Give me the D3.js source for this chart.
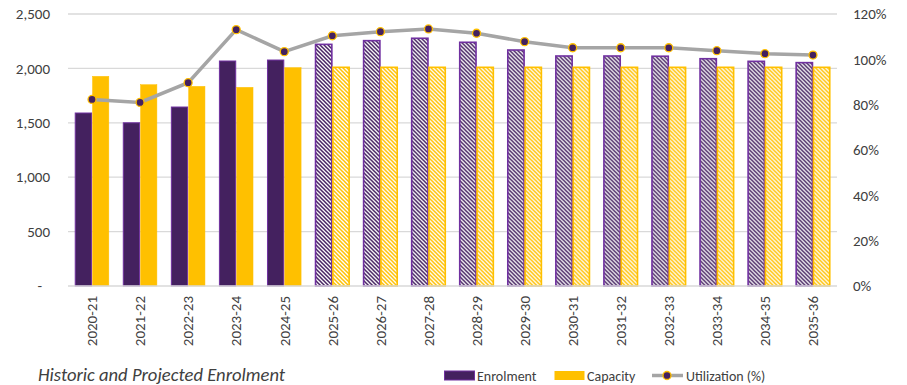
<!DOCTYPE html>
<html>
<head>
<meta charset="utf-8">
<script src="https://cdn.jsdelivr.net/npm/d3@7"></script>
<style>
  body { margin: 0; background: #fff; }
  text { font-family: Carlito, Calibri, Lato, "Open Sans", sans-serif; fill: #404040; }
</style>
</head>
<body>
<div id="app"></div>
<script>
// data
const years = ['2020-21','2021-22','2022-23','2023-24','2024-25','2025-26','2026-27','2027-28',
  '2028-29','2029-30','2030-31','2031-32','2032-33','2033-34','2034-35','2035-36']
const enrolment = [1590,1500,1645,2068,2077,2221,2255,2277,2240,2169,2114,2114,2112,2089,2065,2053]
const capacity = [1927,1850,1835,1826,2007,2010,2010,2010,2010,2010,2010,2010,2010,2010,2010,2010]
const utilization = [82.3,81.0,89.7,113.1,103.4,110.4,112.2,113.4,111.5,107.8,105.1,105.1,105.1,103.8,102.5,101.9]
const projectedFrom = '2025-26'
const leftTicks = [0,500,1000,1500,2000,2500]
const rightTicks = [0,20,40,60,80,100,120]

const W = 907, H = 385
const purple = '#44215f', purpleEdge = '#7030a0', gold = '#ffc000'

const svg = d3.select('#app').append('svg').attr('width',W).attr('height',H)

// hatch patterns for projected years
const defs = svg.append('defs')
function hatch(id,color) {
  const p = defs.append('pattern').attr('id',id).attr('patternUnits','userSpaceOnUse')
    .attr('width',4).attr('height',4)
  p.append('rect').attr('width',4).attr('height',4).attr('fill','#fff')
  p.append('path').attr('d','M-1,-1 L5,5 M-1,3 L1,5 M3,-1 L5,1')
    .attr('stroke',color).attr('stroke-width',1.5)
}
hatch('hatchPurple',purple)
hatch('hatchGold',gold)

const x = d3.scaleBand().domain(years).range([68,837]).paddingInner(0.28).paddingOuter(0.14)
const x1 = d3.scaleBand().domain(['enrolment','capacity']).range([0,x.bandwidth()])
const y = d3.scaleLinear().domain([0,2500]).range([286,14])
const y2 = d3.scaleLinear().domain([0,120]).range([286,14])

// gridlines
svg.append('g').selectAll('line').data(leftTicks.slice(1)).enter().append('line')
  .attr('x1',68).attr('x2',837).attr('y1',d => y(d)).attr('y2',d => y(d))
  .attr('stroke','#d9d9d9').attr('stroke-width',1.3)

// left axis
const fmt = d3.format(',')
svg.append('g').selectAll('text').data(leftTicks).enter().append('text')
  .attr('x',d => d === 0 ? 42 : 50).attr('y',d => y(d)).attr('dy','0.35em')
  .attr('text-anchor','end').attr('font-size',15)
  .text(d => d === 0 ? '-' : fmt(d))

// right axis
svg.append('g').selectAll('text').data(rightTicks).enter().append('text')
  .attr('x',853).attr('y',d => y2(d)).attr('dy','0.35em')
  .attr('font-size',15)
  .text(d => d + '%')

// bars
const rows = years.map((yr,i) => ({year:yr, enrolment:enrolment[i], capacity:capacity[i],
  projected: years.indexOf(yr) >= years.indexOf(projectedFrom)}))

const groups = svg.append('g').selectAll('g').data(rows).enter().append('g')
  .attr('transform',d => `translate(${x(d.year)},0)`)

groups.append('rect')
  .attr('x',x1('enrolment')+0.5).attr('width',x1.bandwidth()-1)
  .attr('y',d => y(d.enrolment)).attr('height',d => y(0) - y(d.enrolment))
  .attr('fill',d => d.projected ? 'url(#hatchPurple)' : purple)
  .attr('stroke',purpleEdge).attr('stroke-width',d => d.projected ? 1.6 : 1)

groups.append('rect')
  .attr('x',x1('capacity')+0.5).attr('width',x1.bandwidth()-1)
  .attr('y',d => y(d.capacity)).attr('height',d => y(0) - y(d.capacity))
  .attr('fill',d => d.projected ? 'url(#hatchGold)' : gold)
  .attr('stroke',gold).attr('stroke-width',d => d.projected ? 1.6 : 0.5)

// baseline
svg.append('line').attr('x1',68).attr('x2',837).attr('y1',y(0)).attr('y2',y(0))
  .attr('stroke','#d9d9d9').attr('stroke-width',1.5)

// x labels
svg.append('g').selectAll('text').data(years).enter().append('text')
  .attr('transform',d => `translate(${x(d) + x.bandwidth()/2},296) rotate(-90)`)
  .attr('text-anchor','end').attr('dy','0.35em').attr('font-size',15)
  .text(d => d)

// utilization line
const cx = d => x(d) + x.bandwidth()/2
const line = d3.line().x((d,i) => cx(years[i])).y(d => y2(d))
svg.append('path').datum(utilization).attr('d',line)
  .attr('fill','none').attr('stroke','#a5a5a5').attr('stroke-width',3.5)
svg.append('g').selectAll('circle').data(utilization).enter().append('circle')
  .attr('cx',(d,i) => cx(years[i])).attr('cy',d => y2(d)).attr('r',4)
  .attr('fill',purple).attr('stroke',gold).attr('stroke-width',1.3)

// title
svg.append('text').attr('x',38).attr('y',381).attr('font-size',18.6)
  .attr('font-style','italic').attr('fill','#262626').text('Historic and Projected Enrolment')

// legend
const lg = svg.append('g')
lg.append('rect').attr('x',444.5).attr('y',371).attr('width',30).attr('height',9)
  .attr('fill',purple).attr('stroke',purpleEdge)
lg.append('text').attr('x',477).attr('y',381).attr('font-size',14).text('Enrolment')
lg.append('rect').attr('x',554.5).attr('y',371).attr('width',30).attr('height',9)
  .attr('fill',gold)
lg.append('text').attr('x',587).attr('y',381).attr('font-size',14).text('Capacity')
lg.append('line').attr('x1',652).attr('x2',683).attr('y1',375.5).attr('y2',375.5)
  .attr('stroke','#a5a5a5').attr('stroke-width',3.5)
lg.append('circle').attr('cx',667).attr('cy',375.5).attr('r',4)
  .attr('fill',purple).attr('stroke',gold).attr('stroke-width',1.3)
lg.append('text').attr('x',686).attr('y',381).attr('font-size',14).text('Utilization (%)')
</script>
</body>
</html>
